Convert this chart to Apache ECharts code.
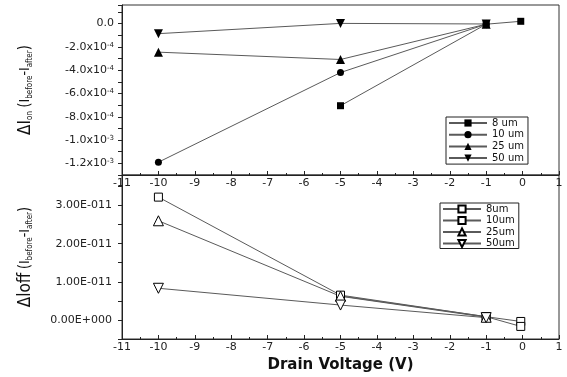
<!DOCTYPE html>
<html>
<head>
<meta charset="utf-8">
<script src="https://cdn.jsdelivr.net/npm/echarts@6/dist/echarts.min.js"></script>
<style>
  html, body { margin: 0; background: #fff; }
  #chart { width: 567px; height: 377px; }
</style>
</head>
<body>
<div id="chart"></div>
<script>
// series names (top panel: delta Ion, bottom panel: delta Ioff)
const ionNames = ["8 um", "10 um", "25 um", "50 um"];
const ioffNames = ["8um", "10um", "25um", "50um"];

// [drain voltage, delta I]
const ion8 = [[-5, -7.05e-4], [-1, -5e-6], [-0.05, 2e-5]];
const ion10 = [[-10, -1.19e-3], [-5, -4.2e-4], [-1, -5e-6]];
const ion25 = [[-10, -2.45e-4], [-5, -3.08e-4], [-1, -5e-6]];
const ion50 = [[-10, -8.6e-5], [-5, 2e-6], [-1, -3e-6]];

const ioff8 = [[-5, 6.3e-12], [-1, 8.5e-13], [-0.05, -4e-13]];
const ioff10 = [[-10, 3.22e-11], [-5, 6.5e-12], [-1, 8.5e-13], [-0.05, -1.7e-12]];
const ioff25 = [[-10, 2.6e-11], [-5, 6.2e-12], [-1, 7e-13]];
const ioff50 = [[-10, 8.3e-12], [-5, 3.9e-12], [-1, 6e-13]];

const DOWN_TRI = "path://M0,0L10,0L5,9Z";
const tickFont = "DejaVu Sans";
const narrow = "DejaVu Sans Condensed, Liberation Sans Narrow, sans-serif";
const LINE = "#5a5a5a";

function topLabel(v) {
  const k = Math.round(v * 1e4);
  if (Math.abs(v * 1e4 - k) > 1e-6 || k % 2 !== 0 || k > 0) return "";
  if (k === 0) return "0.0";
  if (k > -10) return k.toFixed(1) + "x10{e|-4}";
  return (k / 10).toFixed(1) + "x10{e|-3}";
}

function bottomLabel(v) {
  const k = Math.round(v * 1e11);
  if (Math.abs(v * 1e11 - k) > 1e-6 || k < 0 || k > 3) return "";
  if (k === 0) return "0.00E+000";
  return k + ".00E-011";
}

function xAxisCfg(gridIndex, withName) {
  return {
    type: "value",
    gridIndex,
    min: -11,
    max: 1,
    interval: 1,
    axisLine: { onZero: false, lineStyle: { color: "#222", width: 1 } },
    axisTick: { inside: true, length: 4, lineStyle: { color: "#222" } },
    minorTick: { show: true, splitNumber: 2, length: 2, lineStyle: { color: "#222" } },
    splitLine: { show: false },
    axisLabel: { color: "#222", fontFamily: tickFont, fontSize: 11, margin: 3 },
    name: withName ? "Drain Voltage (V)" : "",
    nameLocation: "middle",
    nameGap: 19,
    nameTextStyle: { fontFamily: "DejaVu Sans", fontWeight: "bold", fontSize: 15, color: "#111" }
  };
}

function yName() {
  return {
    color: "#111",
    rich: {
      d: { fontSize: 17, fontFamily: narrow, color: "#111" },
      i: { fontSize: 14, fontFamily: narrow, color: "#111" },
      p: { fontSize: 15, fontFamily: narrow, color: "#111" },
      s: { fontSize: 8, fontFamily: narrow, verticalAlign: "bottom", color: "#111" }
    }
  };
}

const option = {
  backgroundColor: "#fff",
  animation: false,
  grid: [
    { left: 122, top: 5, width: 437, height: 170, show: true, borderColor: "#333", borderWidth: 1 },
    { left: 122, top: 175, width: 437, height: 164, show: true, borderColor: "#333", borderWidth: 1 }
  ],
  xAxis: [xAxisCfg(0, false), xAxisCfg(1, true)],
  yAxis: [
    {
      type: "value",
      gridIndex: 0,
      min: -1.3e-3,
      max: 1.6e-4,
      interval: 1e-4,
      axisLine: { show: true, onZero: false, lineStyle: { color: "#222" } },
      axisTick: { show: true, length: 4, lineStyle: { color: "#222" } },
      splitLine: { show: false },
      axisLabel: {
        formatter: topLabel,
        color: "#222",
        fontFamily: tickFont,
        fontSize: 11,
        margin: 8,
        rich: { e: { fontSize: 7, fontFamily: tickFont, verticalAlign: "top", color: "#222" } }
      },
      name: "{d|ΔI}{s|on} {p|(}{i|I}{s|before}{i|-I}{s|after}{p|)}",
      nameLocation: "middle",
      nameRotate: 90,
      nameGap: 88,
      nameTextStyle: yName()
    },
    {
      type: "value",
      gridIndex: 1,
      min: -5e-12,
      max: 3.8e-11,
      interval: 5e-12,
      axisLine: { show: true, onZero: false, lineStyle: { color: "#222" } },
      axisTick: { show: true, length: 4, lineStyle: { color: "#222" } },
      splitLine: { show: false },
      axisLabel: { formatter: bottomLabel, color: "#222", fontFamily: tickFont, fontSize: 11, margin: 10 },
      name: "{d|Δloff} {p|(}{i|I}{s|before}{i|-I}{s|after}{p|)}",
      nameLocation: "middle",
      nameRotate: 90,
      nameGap: 88,
      nameTextStyle: yName()
    }
  ],
  legend: [
    {
      data: ionNames,
      orient: "vertical",
      left: 446,
      top: 117,
      itemWidth: 38,
      itemHeight: 9,
      itemGap: 1.7,
      padding: [1, 4, 1, 2],
      borderColor: "#222",
      borderWidth: 1,
      textStyle: { fontFamily: tickFont, fontSize: 10, color: "#111" }
    },
    {
      data: ioffNames,
      orient: "vertical",
      left: 440,
      top: 203,
      itemWidth: 38,
      itemHeight: 9,
      itemGap: 1.5,
      padding: [1, 4, 0, 2],
      borderColor: "#222",
      borderWidth: 1,
      textStyle: { fontFamily: tickFont, fontSize: 10, color: "#111" }
    }
  ],
  series: []
};

const filled = { color: "#000" };
const hollow = { color: "#fff", borderColor: "#000", borderWidth: 1 };

[
  [ionNames[0], ion8, "rect", 7],
  [ionNames[1], ion10, "circle", 7],
  [ionNames[2], ion25, "triangle", 9],
  [ionNames[3], ion50, DOWN_TRI, 9]
].forEach(([name, data, symbol, size]) => {
  option.series.push({
    name, type: "line", xAxisIndex: 0, yAxisIndex: 0, data,
    symbol, symbolSize: size, showAllSymbol: true,
    lineStyle: { color: LINE, width: 1 },
    itemStyle: filled
  });
});

[
  [ioffNames[0], ioff8, "rect", 8],
  [ioffNames[1], ioff10, "rect", 8],
  [ioffNames[2], ioff25, "triangle", 10],
  [ioffNames[3], ioff50, DOWN_TRI, 10]
].forEach(([name, data, symbol, size]) => {
  option.series.push({
    name, type: "line", xAxisIndex: 1, yAxisIndex: 1, data,
    symbol, symbolSize: size, showAllSymbol: true,
    lineStyle: { color: LINE, width: 1 },
    itemStyle: hollow
  });
});

const chart = echarts.init(document.getElementById("chart"));
chart.setOption(option);
</script>
</body>
</html>
